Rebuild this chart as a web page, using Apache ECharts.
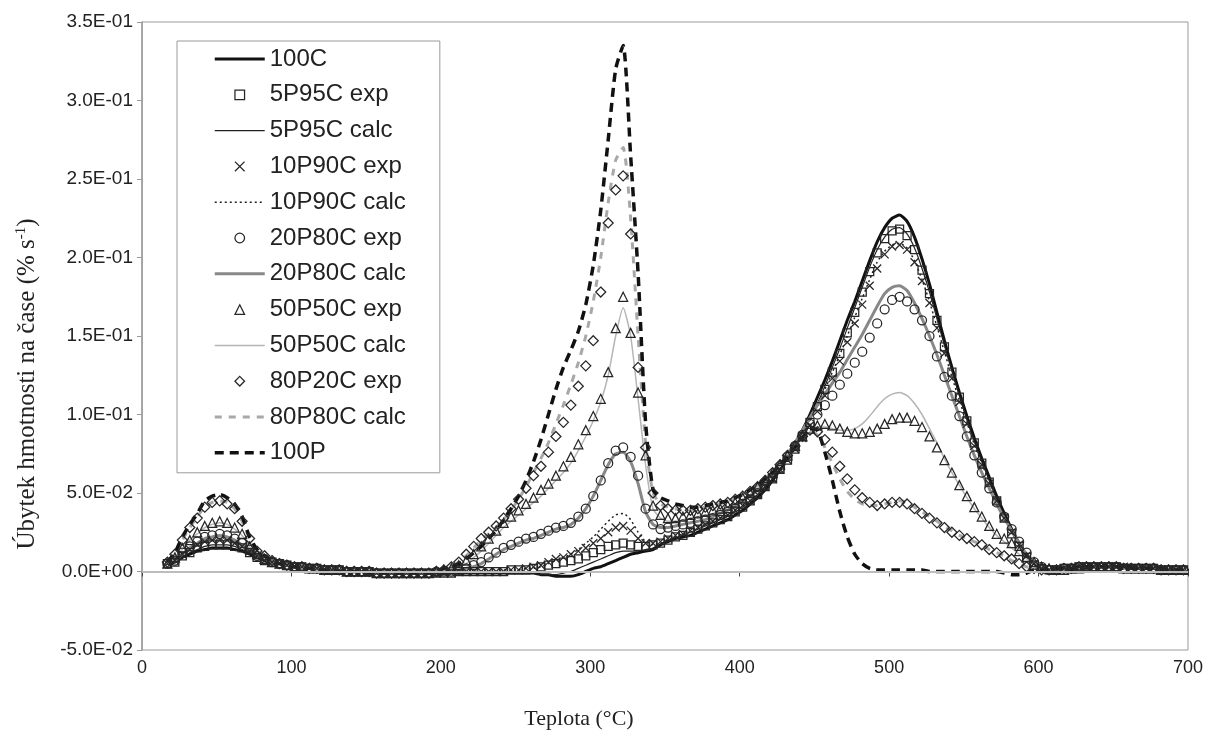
<!DOCTYPE html>
<html><head><meta charset="utf-8">
<script src="https://cdn.jsdelivr.net/npm/echarts@6/dist/echarts.min.js"></script>
<style>html,body{margin:0;padding:0;background:#fff}#c{width:1206px;height:735px}</style>
</head><body><div id="c"></div>
<script>
// Temperature samples (°C)
const temps = [17,22,27,32,37,42,47,52,57,62,
67,72,77,82,87,92,97,102,107,112,
117,122,127,132,137,142,147,152,157,162,
167,172,177,182,187,192,197,202,207,212,
217,222,227,232,237,242,247,252,257,262,
267,272,277,282,287,292,297,302,307,312,
317,322,327,332,337,342,347,352,357,362,
367,372,377,382,387,392,397,402,407,412,
417,422,427,432,437,442,447,452,457,462,
467,472,477,482,487,492,497,502,507,512,
517,522,527,532,537,542,547,552,557,562,
567,572,577,582,587,592,597,602,607,612,
617,622,627,632,637,642,647,652,657,662,
667,672,677,682,687,692,697];

// y values in units of 1E-03 % s-1
const yTickLabels = ['-5.0E-02','0.0E+00','5.0E-02','1.0E-01','1.5E-01','2.0E-01','2.5E-01','3.0E-01','3.5E-01'];
const legendNames = ['100C','5P95C exp','5P95C calc','10P90C exp','10P90C calc','20P80C exp','20P80C calc','50P50C exp','50P50C calc','80P20C exp','80P80C calc','100P'];

const s100C = [5,6,9,11,13,14,15,15,15,14,
13,11,9,7,6,5,4,3,2,2,
1,1,1,0,0,0,0,-1,-1,-1,
-1,-1,-1,-1,-1,-1,-1,-1,-1,-1,
-1,-1,-1,-1,-1,-1,-1,-1,-1,-1,
-2,-2,-3,-3,-3,-2,0,2,3,5,
7,9,11,12,13,14,17,19,21,22,
23,25,27,29,31,33,36,39,43,47,
52,58,65,73,81,90,100,111,122,134,
147,160,172,185,198,210,219,225,227,223,
213,199,183,165,147,130,114,99,85,72,
60,48,37,27,18,10,5,2,0,0,
1,1,2,2,3,3,3,3,3,3,
2,2,2,2,1,1,1];

const s5P95Cexp = [5,6,10,12,15,16,17,17,17,16,
15,12,9,7,6,5,4,3,3,2,
2,1,1,1,0,0,0,0,-1,-1,
-1,-1,-1,-1,-1,-1,-1,-1,-1,0,
0,0,0,0,0,0,1,1,1,2,
3,4,5,6,7,8,10,12,14,16,
17,18,17,16,16,17,18,20,22,23,
25,27,29,31,33,35,38,41,45,49,
54,59,65,71,78,86,95,105,116,127,
139,152,165,178,191,203,212,217,218,214,
205,192,177,160,143,127,111,96,82,69,
57,45,34,24,16,9,4,2,1,1,
2,2,3,3,3,3,3,3,2,2,
2,2,2,1,1,1,1];

const s5P95Ccalc = [5,6,9,12,14,16,17,17,17,16,
14,12,9,7,6,5,4,3,2,2,
1,1,1,0,0,0,0,-1,-1,-1,
-1,-1,-1,-1,-1,-1,-1,-1,-1,-1,
-1,-1,-1,-1,-1,-1,-1,-1,-1,-1,
-2,-2,-2,-1,0,2,4,6,8,10,
12,13,13,13,14,15,17,19,21,23,
25,27,29,31,33,35,38,41,45,49,
54,59,66,73,80,88,97,107,118,130,
142,155,168,181,194,205,213,218,219,215,
206,193,178,161,144,128,112,97,83,70,
58,46,35,25,17,10,5,2,1,0,
1,2,2,3,3,3,3,3,3,2,
2,2,2,2,1,1,1];

const s10P90Cexp = [5,7,11,14,17,19,20,20,20,18,
16,13,10,7,6,5,4,3,3,2,
2,1,1,1,0,0,0,0,-1,-1,
-1,-1,-1,-1,-1,-1,-1,-1,-1,0,
0,0,0,0,0,0,1,1,2,3,
4,6,8,9,11,13,15,18,21,25,
28,29,26,21,18,18,19,21,23,24,
26,28,30,32,34,36,39,42,45,49,
54,59,65,71,78,85,93,102,112,123,
134,146,158,170,182,193,202,207,208,205,
197,185,171,155,139,123,108,94,80,68,
56,45,34,25,17,10,5,2,1,1,
2,2,3,3,3,3,3,3,3,2,
2,2,2,1,1,1,1];

const s10P90Ccalc = [5,7,11,14,17,19,20,20,20,18,
16,13,10,7,6,5,4,3,2,2,
1,1,1,0,0,0,0,-1,-1,-1,
-1,-1,-1,-1,-1,-1,-1,-1,-1,0,
0,0,0,0,0,1,1,1,2,2,
3,5,7,9,11,14,18,22,27,32,
36,37,33,25,19,17,18,20,22,24,
26,28,30,32,34,36,39,42,45,49,
54,60,66,73,80,88,96,106,116,127,
138,150,162,174,186,197,204,208,209,206,
198,186,172,156,140,124,109,95,81,69,
57,46,35,26,18,11,6,3,1,1,
2,2,3,3,3,3,3,3,3,2,
2,2,2,1,1,1,1];

const s20P80Cexp = [5,7,12,16,19,22,23,24,23,21,
18,14,10,8,6,5,4,3,3,2,
2,1,1,1,0,0,0,0,-1,-1,
-1,-1,-1,-1,-1,-1,0,0,0,1,
2,4,6,9,12,15,17,19,21,22,
24,26,28,29,31,35,40,48,58,69,
77,79,73,61,40,30,27,28,29,30,
31,32,33,34,36,38,40,43,46,50,
55,60,66,73,80,87,94,100,106,112,
119,126,133,140,149,158,167,173,175,172,
167,160,150,137,124,112,99,86,74,63,
53,44,35,27,19,12,6,3,1,1,
2,2,3,3,3,3,3,3,2,2,
2,2,2,1,1,1,1];

const s20P80Ccalc = [5,7,11,15,18,21,22,23,22,20,
17,14,10,8,6,5,4,3,2,2,
1,1,1,0,0,0,0,-1,-1,-1,
-1,-1,-1,-1,-1,-1,0,0,0,1,
2,3,5,8,11,14,16,18,20,21,
23,25,27,28,30,34,40,48,58,68,
75,76,70,56,38,30,28,28,29,30,
31,32,33,35,37,39,42,45,48,52,
57,62,68,75,82,90,98,106,113,120,
127,135,143,151,160,169,177,181,182,179,
171,161,150,138,125,112,99,86,74,63,
53,43,34,26,18,11,6,3,1,1,
2,2,3,3,3,3,3,3,2,2,
2,2,2,1,1,1,1];

const s50P50Cexp = [5,9,15,20,25,29,31,32,31,28,
24,16,11,8,6,5,4,3,3,2,
2,1,1,1,0,0,0,0,-1,-1,
-1,-1,-1,-1,-1,-1,0,1,2,4,
7,11,16,21,26,31,35,39,43,47,
52,56,61,67,73,81,90,99,110,127,
155,175,152,114,74,42,36,34,34,35,
36,37,38,39,40,42,44,47,50,54,
58,63,68,74,80,86,91,93,94,93,
91,89,88,88,89,91,94,97,98,98,
96,92,86,79,71,63,55,48,41,35,
29,24,21,18,13,9,6,3,2,1,
1,2,2,3,3,3,3,3,2,2,
2,2,2,1,1,1,1];

const s50P50Ccalc = [5,9,14,20,24,28,30,31,30,27,
23,16,11,8,6,5,4,3,2,2,
1,1,1,0,0,0,0,-1,-1,-1,
-1,-1,-1,-1,-1,-1,0,0,1,3,
5,9,13,18,23,28,32,36,40,44,
48,53,58,63,69,77,86,96,108,125,
150,168,150,110,68,40,34,32,32,33,
34,35,36,37,39,41,43,46,49,53,
57,62,67,73,79,85,89,92,92,91,
90,90,91,94,99,105,110,113,114,112,
107,100,91,82,72,63,55,47,40,34,
28,23,19,15,11,8,5,3,2,1,
1,2,2,3,3,3,3,3,2,2,
2,2,2,1,1,1,1];

const s80P20Cexp = [6,11,20,28,34,41,44,45,43,40,
32,21,13,10,7,5,4,3,3,2,
2,1,1,1,0,0,0,0,-1,-1,
-1,-1,-1,-1,-1,-1,0,1,3,6,
11,16,21,25,29,34,40,46,53,61,
67,76,86,95,106,118,131,147,178,222,
243,252,215,130,79,50,42,40,39,39,
39,40,41,42,43,44,46,48,51,54,
58,63,68,74,80,86,90,89,84,76,
67,59,52,47,44,42,43,44,44,43,
40,37,34,31,28,25,23,21,19,17,
14,12,10,8,5,3,2,1,1,1,
2,2,3,3,3,3,3,3,2,2,
2,2,2,1,1,1,1];

const s80P80Ccalc = [6,11,20,28,35,41,44,45,44,40,
32,21,13,10,7,5,4,3,3,2,
2,1,1,1,0,0,0,0,-1,-1,
-1,-1,-1,-1,-1,-1,0,1,3,6,
10,15,20,24,28,33,39,46,54,63,
72,82,94,106,119,133,150,172,200,235,
262,270,225,150,82,50,43,41,40,39,
39,40,41,42,43,45,47,49,52,55,
59,64,69,75,81,87,90,87,79,69,
59,51,46,43,42,42,43,44,45,44,
41,38,35,32,29,26,23,21,19,17,
14,12,10,7,5,3,2,1,1,1,
2,2,3,3,3,3,3,3,2,2,
2,2,2,1,1,1,1];

const s100P = [6,12,22,30,37,45,48,49,47,43,
35,22,14,10,7,5,4,3,2,2,
1,1,0,0,0,0,0,-1,-1,-1,
-1,-1,-1,-1,-1,-1,0,2,3,5,
8,12,16,21,26,33,40,48,58,70,
84,100,116,130,141,153,170,195,230,275,
320,335,265,190,95,52,47,45,43,42,
41,41,42,43,44,45,47,49,52,55,
59,63,68,73,79,85,91,90,76,58,
38,22,11,5,2,1,1,1,1,1,
1,1,0,0,0,0,0,0,0,0,
0,0,-1,-2,-2,-1,1,1,1,2,
2,2,3,3,3,3,3,3,2,2,
2,2,2,1,1,1,1];

function pts(vals) { return temps.map((t, i) => [t, vals[i]]); }

function expSeries(name, vals, symbol, size) {
  return {
    name, type: 'line', data: pts(vals), symbol, symbolSize: size, showAllSymbol: true,
    lineStyle: { width: 0, opacity: 0 },
    itemStyle: { color: 'rgba(0,0,0,0)', borderColor: '#262626', borderWidth: 1.25 },
    animation: false, silent: true
  };
}
function calcSeries(name, vals, color, width, type) {
  return {
    name, type: 'line', data: pts(vals), symbol: 'none', smooth: 0.2,
    lineStyle: { color, width, type },
    itemStyle: { color, opacity: 0 },
    animation: false, silent: true
  };
}

const series = [
  calcSeries(legendNames[0], s100C, '#111', 3, 'solid'),
  expSeries(legendNames[1], s5P95Cexp, 'rect', 8),
  calcSeries(legendNames[2], s5P95Ccalc, '#222', 1.2, 'solid'),
  expSeries(legendNames[3], s10P90Cexp, 'path://M0,0L10,10M10,0L0,10', 8),
  calcSeries(legendNames[4], s10P90Ccalc, '#222', 1.5, [2, 3]),
  expSeries(legendNames[5], s20P80Cexp, 'circle', 9),
  calcSeries(legendNames[6], s20P80Ccalc, '#888', 3, 'solid'),
  expSeries(legendNames[7], s50P50Cexp, 'triangle', 9),
  calcSeries(legendNames[8], s50P50Ccalc, '#b5b5b5', 1.5, 'solid'),
  expSeries(legendNames[9], s80P20Cexp, 'diamond', 10),
  calcSeries(legendNames[10], s80P80Ccalc, '#a8a8a8', 3, [7, 7]),
  calcSeries(legendNames[11], s100P, '#111', 3.5, [9, 6])
];
series[0].markLine = {
  silent: true, symbol: ['none', 'none'], label: { show: false },
  lineStyle: { color: '#bdbdbd', width: 2, type: 'solid' },
  data: [{ yAxis: 0 }], animation: false
};

const chart = echarts.init(document.getElementById('c'));
chart.setOption({
  backgroundColor: '#fff',
  animation: false,
  grid: { left: 142, right: 16, top: 22, bottom: 85, show: true, borderColor: '#9a9a9a', borderWidth: 1 },
  xAxis: {
    type: 'value', min: 0, max: 700, interval: 100,
    axisLine: { show: true, lineStyle: { color: '#444', width: 1.5 } },
    axisTick: { show: true, length: 5, lineStyle: { color: '#444' } },
    splitLine: { show: false },
    axisLabel: { fontFamily: 'Arial, "Liberation Sans", sans-serif', fontSize: 18, color: '#222', margin: 9 },
    name: 'Teplota (°C)', nameLocation: 'middle', nameGap: 58,
    nameTextStyle: { fontFamily: '"Liberation Serif", "Times New Roman", serif', fontSize: 22, color: '#222', padding: [0, 172, 0, 0] }
  },
  yAxis: {
    type: 'value', min: -50, max: 350, interval: 50,
    axisLine: { show: true, lineStyle: { color: '#9a9a9a', width: 1.5 } },
    axisTick: { show: true, length: 5, lineStyle: { color: '#9a9a9a' } },
    splitLine: { show: false },
    axisLabel: {
      formatter: v => yTickLabels[Math.round((v + 50) / 50)],
      fontFamily: 'Arial, "Liberation Sans", sans-serif', fontSize: 19, color: '#222', margin: 9
    },
    name: 'Úbytek hmotnosti na čase (% s{sup|-1})', nameLocation: 'middle', nameRotate: 90, nameGap: 102,
    nameTextStyle: {
      fontFamily: '"Liberation Serif", "Times New Roman", serif', fontSize: 25, color: '#222', padding: [0, 96, 0, 0],
      rich: { sup: { fontFamily: '"Liberation Serif", "Times New Roman", serif', fontSize: 15, color: '#222', padding: [0, 0, 11, 0] } }
    }
  },
  legend: {
    orient: 'vertical', left: 177, top: 41, padding: [6, 34, 8, 36],
    itemWidth: 50, itemHeight: 12, itemGap: 11.8,
    backgroundColor: '#fff', borderColor: '#9a9a9a', borderWidth: 1,
    selectedMode: false,
    textStyle: { fontFamily: 'Arial, "Liberation Sans", sans-serif', fontSize: 24, color: '#222', lineHeight: 24 },
    lineStyle: { width: 'inherit', opacity: 'inherit' },
    itemStyle: { borderWidth: 'inherit' },
    data: legendNames
  },
  series
});
</script></body></html>
